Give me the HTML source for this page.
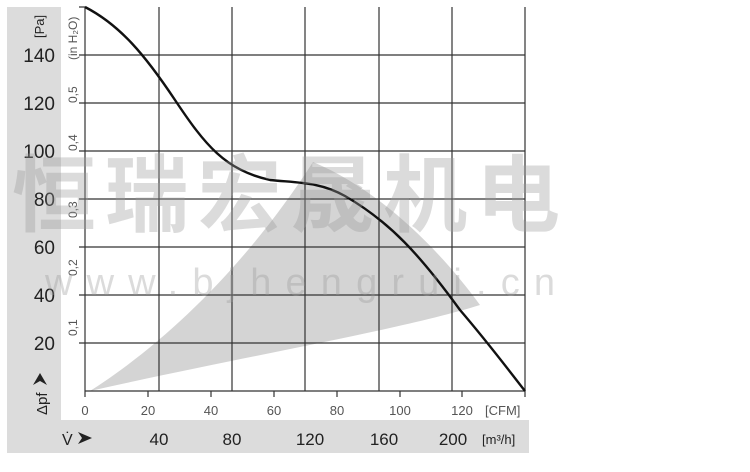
<!DOCTYPE html>
<html><head><meta charset="utf-8"><style>
body{margin:0;background:#fff;width:750px;height:467px;overflow:hidden;font-family:"Liberation Sans",sans-serif}
</style></head><body>
<svg width="750" height="467" xmlns="http://www.w3.org/2000/svg" font-family="Liberation Sans, sans-serif">
<rect x="7" y="7" width="54" height="446" fill="#dcdcdc"/>
<rect x="7" y="420" width="522" height="33" fill="#dcdcdc"/>
<rect x="61" y="7" width="468" height="413" fill="#fff"/>
<path d="M90,391 C170,340 250,260 313,162 C380,190 440,250 480,305 C400,330 250,355 90,391Z" fill="#d4d4d4"/>
<g stroke="#333" stroke-width="1.2" fill="none">
<path d="M85,55H525M85,103H525M85,151H525M85,199H525M85,247H525M85,295H525M85,343H525"/>
<path d="M159,7V391M232,7V391M305,7V391M379,7V391M452,7V391"/>
<path d="M85,7V391M85,391H525M525,7V391"/>
<path d="M85,391v6M148,391v6M211,391v6M274,391v6M337,391v6M400,391v6M462,391v6M525,391v6"/>
<path d="M79,7h6M79,55h6M79,103h6M79,151h6M79,199h6M79,247h6M79,295h6M79,343h6"/>
</g>
<path d="M85,7 C120,25 145,55 175,100 C205,145 225,170 270,180 C300,183 320,182 345,196 C390,222 420,255 460,310 C490,345 510,372 525,391" stroke="#111" stroke-width="2.4" fill="none"/>
<g font-size="19" fill="#222" text-anchor="end">
<text x="55" y="62">140</text><text x="55" y="110">120</text><text x="55" y="158">100</text>
<text x="55" y="206">80</text><text x="55" y="254">60</text><text x="55" y="302">40</text><text x="55" y="350">20</text>
</g>
<text transform="translate(44,38) rotate(-90)" font-size="13" fill="#222">[Pa]</text>
<text transform="translate(47,415) rotate(-90)" font-size="15" fill="#222">Δpf</text>
<path d="M33,385 l7,-12 l7,12 l-7,-4z" fill="#222"/>
<g font-size="12" fill="#555">
<text transform="translate(77,60) rotate(-90)">(in H₂O)</text>
<text transform="translate(77,103) rotate(-90)">0,5</text>
<text transform="translate(77,151) rotate(-90)">0,4</text>
<text transform="translate(77,218) rotate(-90)">0,3</text>
<text transform="translate(77,276) rotate(-90)">0,2</text>
<text transform="translate(77,336) rotate(-90)">0,1</text>
</g>
<g font-size="13" fill="#555" text-anchor="middle">
<text x="85" y="415">0</text><text x="148" y="415">20</text><text x="211" y="415">40</text><text x="274" y="415">60</text>
<text x="337" y="415">80</text><text x="400" y="415">100</text><text x="462" y="415">120</text>
</g>
<text x="485" y="415" font-size="13" fill="#555">[CFM]</text>
<text x="62" y="445" font-size="16" fill="#222">V̇</text>
<path d="M78,432 l14,6 l-14,6 l4,-6z" fill="#222"/>
<g font-size="17" fill="#222" text-anchor="middle">
<text x="159" y="445">40</text><text x="232" y="445">80</text><text x="310" y="445">120</text>
<text x="384" y="445">160</text><text x="453" y="445">200</text>
</g>
<text x="482" y="444" font-size="13" fill="#222">[m³/h]</text>
<g fill="#9a9a9a" opacity="0.35">
<text x="12" y="225" font-size="84" font-family="Noto Sans CJK SC, sans-serif" font-weight="bold" textLength="548" lengthAdjust="spacing">恒瑞宏晟机电</text>
<text x="45" y="295" font-size="38" textLength="510" lengthAdjust="spacing">www.bjhengrui.cn</text>
</g>
</svg>
</body></html>
